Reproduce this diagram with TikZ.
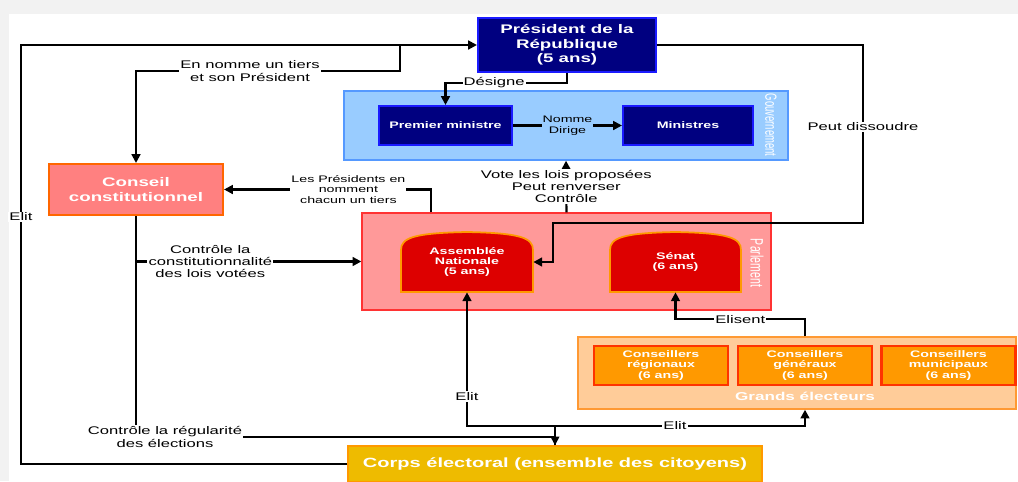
\documentclass[tikz,border=0pt]{standalone}
\usepackage{graphicx}
\usepackage{fontspec}
\setmainfont{Liberation Sans}[FakeStretch=1.5]
\newfontfamily\vertfont{Liberation Sans}
\usetikzlibrary{arrows.meta,calc}

\definecolor{presfill}{HTML}{000080}
\definecolor{presline}{HTML}{1A1AFF}
\definecolor{gouvfill}{HTML}{99CCFF}
\definecolor{gouvline}{HTML}{5599FF}
\definecolor{ccfill}{HTML}{FF8080}
\definecolor{ccline}{HTML}{FF6600}
\definecolor{parlfill}{HTML}{FF9999}
\definecolor{parlline}{HTML}{FF3333}
\definecolor{chfill}{HTML}{DD0000}
\definecolor{chline}{HTML}{FF9900}
\definecolor{gefill}{HTML}{FFCC99}
\definecolor{geline}{HTML}{FF9933}
\definecolor{consfill}{HTML}{FF9900}
\definecolor{consline}{HTML}{FF3300}
\definecolor{corpsfill}{HTML}{EEBB00}
\definecolor{corpsline}{HTML}{FF9900}

\newcommand{\tall}[1]{\scalebox{1}[1.7]{#1}}

\tikzset{
  conn/.style={line width=1.2pt},
  thin conn/.style={line width=0.7pt},
  lbl/.style={fill=white, inner sep=0.6pt, align=center, font=\fontsize{6.3}{7}\selectfont},
  smalllbl/.style={lbl, font=\fontsize{5.4}{6}\selectfont},
  vlbl/.style={rotate=-90, text=white, inner sep=0pt, font=\vertfont\fontsize{5.4}{6}\selectfont},
  navybox/.style={draw=presline, fill=presfill, line width=1.2pt, text=white, align=center, inner sep=0pt,
    font=\bfseries\fontsize{5.4}{6}\selectfont},
  gouvbox/.style={draw=gouvline, fill=gouvfill, line width=0.8pt},
  ccbox/.style={draw=ccline, fill=ccfill, line width=1.2pt, text=white, align=center, inner sep=0pt,
    font=\bfseries\fontsize{7.1}{8.2}\selectfont},
  parlbox/.style={draw=parlline, fill=parlfill, line width=0.8pt},
  arch/.style={draw=chline, fill=chfill, line width=1pt},
  chtext/.style={text=white, align=center, inner sep=0pt, font=\bfseries\fontsize{5.4}{5.9}\selectfont},
  gebox/.style={draw=geline, fill=gefill, line width=0.8pt},
  consbox/.style={draw=consline, fill=consfill, line width=1.2pt, text=white, align=center, inner sep=0pt,
    minimum width=2.68cm, minimum height=0.78cm, font=\bfseries\fontsize{5.4}{5.8}\selectfont},
  corpsbox/.style={draw=corpsline, fill=corpsfill, line width=0.8pt, text=white, inner sep=0pt,
    font=\bfseries\fontsize{7.6}{8.5}\selectfont}
}

\begin{document}
\begin{tikzpicture}[x=0.02cm, y=-0.02cm, >={Triangle[length=5pt,width=5pt]}]
\useasboundingbox (0,0) rectangle (1018,481);
\fill[black!5] (0,0) rectangle (1018,481);
\fill[white] (9,14) rectangle (1018,481);

% executif
\node[gouvbox, minimum width=8.88cm, minimum height=1.38cm] (gouv) at (566,125.5) {};
\node[vlbl] (gouvlbl) at (771,125) {\tall{Gouvernement}};
\node[navybox, minimum width=2.66cm, minimum height=0.78cm] (pm) at (445.5,125.5) {Premier ministre};
\node[navybox, minimum width=2.6cm, minimum height=0.78cm] (min) at (688,125.5) {Ministres};
\node[navybox, minimum width=3.56cm, minimum height=1.08cm, font=\bfseries\fontsize{7.1}{8.2}\selectfont]
  (pres) at (567,45) {Président de la\\République\\(5 ans)};

\node[ccbox, minimum width=3.48cm, minimum height=1.02cm] (cc) at (136,189.5) {Conseil\\constitutionnel};

% parlement
\node[parlbox, minimum width=8.18cm, minimum height=1.94cm] (parl) at (566.5,261.5) {};
\node[vlbl, font=\vertfont\fontsize{6}{7}\selectfont] (parllbl) at (757,263) {\tall{Parlement}};
\foreach \xa/\xb in {401/533, 610/741}
  \draw[arch] (\xa,292) -- (\xa,250) .. controls (\xa,238) and (\xa+12,233) .. ({(\xa+\xb)/2},232)
    .. controls (\xb-12,233) and (\xb,238) .. (\xb,250) -- (\xb,292) -- cycle;
\node[chtext, minimum width=2.64cm, minimum height=1.2cm] (an) at (467,262) {Assemblée\\Nationale\\(5 ans)};
\node[chtext, minimum width=2.62cm, minimum height=1.2cm] (sen) at (675.5,262) {Sénat\\(6 ans)};

% grands electeurs
\node[gebox, minimum width=8.76cm, minimum height=1.44cm] (ge) at (797,373) {};
\node[chtext, font=\bfseries\fontsize{6.5}{7}\selectfont] (gelbl) at (805,396) {Grands électeurs};
\node[consbox] (cr) at (661,365.5) {Conseillers\\régionaux\\(6 ans)};
\node[consbox] (cg) at (805,365.5) {Conseillers\\généraux\\(6 ans)};
\node[consbox] (cm) at (948.5,365.5) {Conseillers\\municipaux\\(6 ans)};

\node[corpsbox, minimum width=8.28cm, minimum height=0.72cm] (corps) at (555,464) {Corps électoral (ensemble des citoyens)};

\node[lbl] (reg) at (165,437) {Contrôle la régularité\\des élections};

% liens
\draw[conn,->] (corps.west) -| node[lbl,pos=0.795]{Elit} (21,45) -- (pres.west);
\coordinate (bj) at (400,45);
\draw[conn,->] (bj) -- ++(0,26) -| node[lbl,pos=0.284]{En nomme un tiers\\et son Président} (cc.north);
\draw[conn,->] (pres.south) -- ++(0,10) -| node[lbl,pos=0.3]{Désigne} (pm.north);
\draw[conn,->] (pm.east) -- node[smalllbl, fill=gouvfill]{Nomme\\Dirige} (min.west);
\draw[conn,->] (parl.north) -- node[lbl]{Vote les lois proposées\\Peut renverser\\Contrôle} (gouv.south);
\draw[conn,->] (pres.east) -| node[lbl,pos=0.73]{Peut dissoudre} (863,223) -| (553,262) -- (an.east);
\draw[conn,->] ($(parl.north west)+(70,0)$) |- node[smalllbl,pos=0.70]{Les Présidents en\\nomment\\chacun un tiers} (cc.east);
\draw[conn] (cc.south) -- (cc.south |- reg.north);
\draw[conn,->] (cc.south |- parl.west) -- node[lbl,pos=0.33]{Contrôle la\\constitutionnalité\\des lois votées} (parl.west);
\coordinate (ej) at (555,426);
\draw[conn] (corps.north) -- (ej);
\draw[conn,->] (ej) -| node[lbl,pos=0.61]{Elit} (an.south);
\draw[conn,->] (ej) -| node[lbl,pos=0.24]{Elit} (ge.south -| cg.south);
\draw[conn,->] (ge.north -| cg.north) -- ++(0,-17) -| node[lbl,pos=0.25]{Elisent} (sen.south);
\draw[thin conn,->] (reg.east) -| (corps.north);
\end{tikzpicture}
\end{document}
